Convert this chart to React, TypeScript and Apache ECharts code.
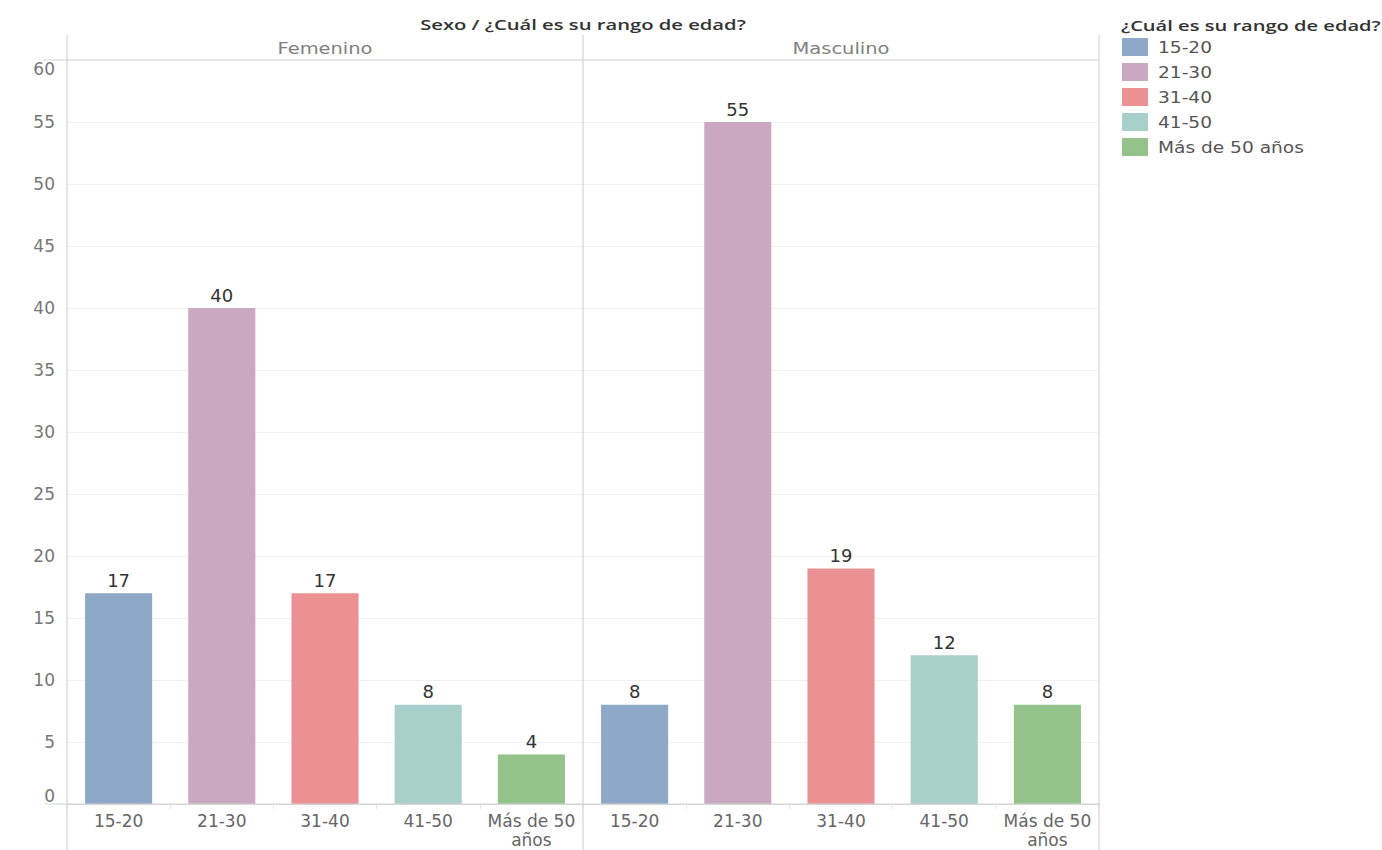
import React, { useEffect, useRef } from "react";
import * as echarts from "echarts";

const categories = ["15-20", "21-30", "31-40", "41-50", "Más de 50 años"];
const axisLabels = ["15-20", "21-30", "31-40", "41-50", "Más de 50\naños"];
const panels = ["Femenino", "Masculino"];
const femeninoValues = [17, 40, 17, 8, 4];
const masculinoValues = [8, 55, 19, 12, 8];
const colors = ["#8DA9C7", "#CAA8C2", "#EB9194", "#A8CFCA", "#93C28B"];
const chartTitle = "Sexo / ¿Cuál es su rango de edad?";
const legendTitle = "¿Cuál es su rango de edad?";

const FONT = "'DejaVu Sans', Verdana, sans-serif";
const TFONT = "'Open Sans', 'DejaVu Sans', sans-serif";
const LINE = "#d4d4d4";

function measure(text: string, font: string): number {
  const c = document.createElement("canvas").getContext("2d");
  if (!c) return 1;
  c.font = font;
  return c.measureText(text).width || 1;
}

export default function App() {
  const ref = useRef<HTMLDivElement>(null);
  useEffect(() => {
    if (!ref.current) return;
    const chart = echarts.init(ref.current, null, { renderer: "svg" });
    const gridTop = 60;
    const gridH = 744;
    const panelW = 516;
    const lefts = [67, 583];

    const xAxis = lefts.map((_, i) => ({
      type: "category",
      gridIndex: i,
      data: axisLabels,
      axisLine: { show: true, lineStyle: { color: LINE } },
      axisTick: { show: true, length: 5, lineStyle: { color: "#e6e6e6" } },
      axisLabel: {
        color: "#666",
        fontSize: 17,
        fontFamily: FONT,
        margin: 7,
        lineHeight: 19.5,
        interval: 0,
      },
    }));
    const yAxis = lefts.map((_, i) => ({
      type: "value",
      gridIndex: i,
      min: 0,
      max: 60,
      interval: 5,
      axisLine: { show: false },
      axisTick: { show: false },
      splitLine: { show: true, lineStyle: { color: "#f1f1f1" } },
      axisLabel: {
        show: i === 0,
        color: "#777",
        fontSize: 17,
        fontFamily: FONT,
        margin: 12,
        verticalAlignMinLabel: "bottom",
        verticalAlignMaxLabel: "top",
      },
    }));
    const series = [femeninoValues, masculinoValues].map((vals, i) => ({
      type: "bar",
      name: panels[i],
      xAxisIndex: i,
      yAxisIndex: i,
      barWidth: "65%",
      data: vals.map((v, j) => ({ value: v, itemStyle: { color: colors[j] } })),
      label: {
        show: true,
        position: "top",
        distance: 4,
        color: "#333",
        fontSize: 18,
        fontFamily: FONT,
      },
    }));

    const graphics: any[] = [];
    const titleFont = `600 15px ${TFONT}`;
    graphics.push({
      type: "text",
      x: 583,
      y: 24,
      scaleX: 326 / measure(chartTitle, titleFont),
      style: {
        text: chartTitle,
        fill: "#333",
        font: titleFont,
        textAlign: "center",
        textVerticalAlign: "middle",
      },
    });
    const headFont = `16px ${FONT}`;
    const headScale = 95 / measure("Femenino", headFont);
    panels.forEach((p, i) => {
      graphics.push({
        type: "text",
        x: lefts[i] + panelW / 2,
        y: 48,
        scaleX: headScale,
        style: {
          text: p,
          fill: "#808080",
          font: headFont,
          textAlign: "center",
          textVerticalAlign: "middle",
        },
      });
    });
    [67, 583, 1099].forEach((x) => {
      graphics.push({
        type: "line",
        z: 10,
        shape: { x1: x, y1: 35, x2: x, y2: 850 },
        style: { stroke: LINE, lineWidth: 1.2 },
      });
    });
    graphics.push({
      type: "line",
      z: 10,
      shape: { x1: 43, y1: gridTop, x2: 1099, y2: gridTop },
      style: { stroke: LINE, lineWidth: 1.2 },
    });
    graphics.push({
      type: "line",
      z: 10,
      shape: { x1: 45, y1: gridTop + gridH, x2: 1099, y2: gridTop + gridH },
      style: { stroke: LINE, lineWidth: 1.2 },
    });
    graphics.push({
      type: "text",
      x: 1121,
      y: 25,
      scaleX: 260 / measure(legendTitle, titleFont),
      style: {
        text: legendTitle,
        fill: "#333",
        font: titleFont,
        textAlign: "left",
        textVerticalAlign: "middle",
      },
    });
    const itemFont = `16px ${FONT}`;
    const itemScale = 146 / measure(categories[4], itemFont);
    categories.forEach((c, i) => {
      const cy = 47 + i * 25;
      graphics.push({
        type: "rect",
        shape: { x: 1122, y: cy - 9, width: 26, height: 18 },
        style: { fill: colors[i] },
      });
      graphics.push({
        type: "text",
        x: 1158,
        y: cy,
        scaleX: itemScale,
        style: {
          text: c,
          fill: "#555",
          font: itemFont,
          textAlign: "left",
          textVerticalAlign: "middle",
        },
      });
    });

    chart.setOption({
      animation: false,
      grid: lefts.map((l) => ({
        left: l,
        top: gridTop,
        width: panelW,
        height: gridH,
        containLabel: false,
        outerBoundsMode: "none",
      })),
      xAxis,
      yAxis,
      series,
      graphic: graphics,
    });
    return () => chart.dispose();
  }, []);
  return (
    <div
      ref={ref}
      style={{ position: "fixed", left: 0, top: 0, width: 1382, height: 850, background: "#fff" }}
    />
  );
}
